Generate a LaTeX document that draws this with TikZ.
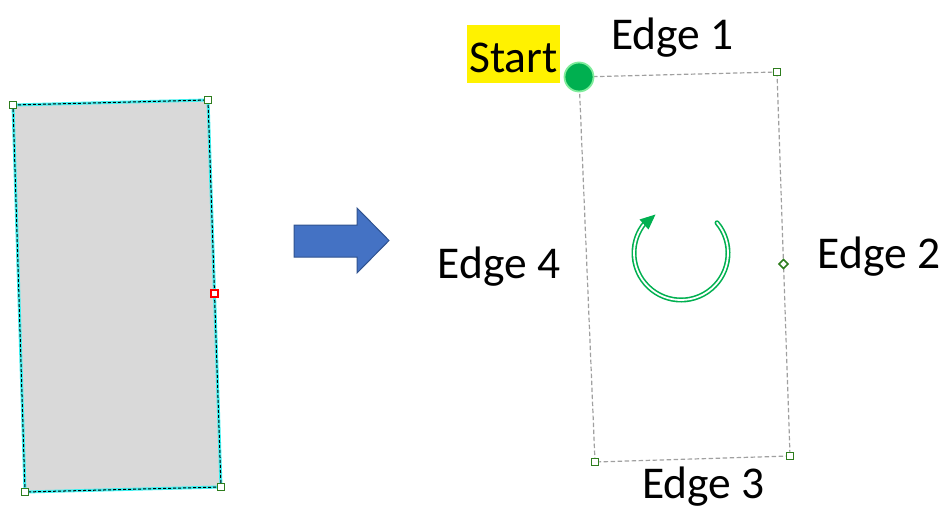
\documentclass[tikz,border=0pt]{standalone}
\usepackage{fontspec}
\setmainfont{Carlito}
\usetikzlibrary{arrows.meta,calc}
\definecolor{shapegray}{HTML}{D9D9D9}
\definecolor{selcyan}{HTML}{40F0F0}
\definecolor{markgreen}{HTML}{2E7D1E}
\definecolor{startgreen}{HTML}{00B050}
\definecolor{ringgreen}{HTML}{80EC9C}
\definecolor{arrowblue}{HTML}{4472C4}
\definecolor{arrowedge}{HTML}{2F528F}
\definecolor{edgegray}{HTML}{A0A0A0}
\begin{document}
\begin{tikzpicture}[x=1pt,y=-1pt,
    marker/.style={draw=markgreen, fill=white, line width=1.8pt, minimum size=7pt, inner sep=0pt},
    lbl/.style={font=\fontsize{45.5}{54}\selectfont, anchor=base, inner sep=0pt},
    sel/.style={draw=selcyan, line width=3pt},
    dashline/.style={draw=black, line width=1pt, dash pattern=on 3pt off 2pt},
    outline/.style={draw=edgegray, line width=1.2pt, dash pattern=on 4.5pt off 2.5pt}]
  \useasboundingbox (0,0) rectangle (949,511);
  % left shape
  \coordinate (L0_0) at (13,105);
  \coordinate (L0_1) at (208,100);
  \coordinate (L1_1) at (221,487);
  \coordinate (L1_0) at (25,492);
  \fill[shapegray] (L0_0) -- (L0_1) -- (L1_1) -- (L1_0) -- cycle;
  \path (L0_0) edge [sel] (L0_1);
  \path (L0_1) edge [sel] (L1_1);
  \path (L1_1) edge [sel] (L1_0);
  \path (L1_0) edge [sel] (L0_0);
  \path (L0_0) edge [dashline] (L0_1);
  \path (L0_1) edge [dashline] (L1_1);
  \path (L1_1) edge [dashline] (L1_0);
  \path (L1_0) edge [dashline] (L0_0);
  \node[marker] at (L0_0) {};
  \node[marker] at (L0_1) {};
  \node[marker] at (L1_1) {};
  \node[marker] at (L1_0) {};
  \node[marker, draw=red] at ($(L0_1)!0.5!(L1_1)$) {};
  % block arrow
  \filldraw[fill=arrowblue, draw=arrowedge, line width=1pt]
    (294,225) -- (357,225) -- (357,208) -- (389,240.5) -- (357,273)
    -- (357,257) -- (294,257) -- cycle;
  % right shape
  \coordinate (R0_0) at (579,77);
  \coordinate (R0_1) at (777,72);
  \coordinate (R1_1) at (790,456);
  \coordinate (R1_0) at (595,462);
  \path (R0_0) edge [outline] (R0_1);
  \path (R0_1) edge [outline] (R1_1);
  \path (R1_1) edge [outline] (R1_0);
  \path (R1_0) edge [outline] (R0_0);
  \node[marker] at (R0_1) {};
  \node[marker] at (R1_1) {};
  \node[marker] at (R1_0) {};
  \node[marker, rotate=45, minimum size=6.5pt, line width=1.6pt] at ($(R0_1)!0.5!(R1_1)$) {};
  \node[circle, fill=startgreen, draw=ringgreen, line width=1.8pt, minimum size=29pt, inner sep=0pt] (S) at (R0_0) {};
  % turning arrow
  \coordinate (C) at (681,253);
  \draw[startgreen, line width=1.6pt, double=white, double distance=1.8pt, line cap=round]
    ([shift={(-40:47)}]C) arc (-40:220:47);
  \fill[startgreen] (639.5,219.5) -- (655.5,214.5) -- (648.5,229.5) -- cycle;
  % labels
  \node[lbl, fill=yellow, inner xsep=2.5pt, inner ysep=0pt, text height=47pt, text depth=11pt] (T) at (513.5,72) {Start};
  \node[lbl] (E1) at (672.5,49) {Edge 1};
  \node[lbl] (E2) at (879,268) {Edge 2};
  \node[lbl] (E3) at (703.5,498) {Edge 3};
  \node[lbl] (E4) at (499,278) {Edge 4};
\end{tikzpicture}
\end{document}
